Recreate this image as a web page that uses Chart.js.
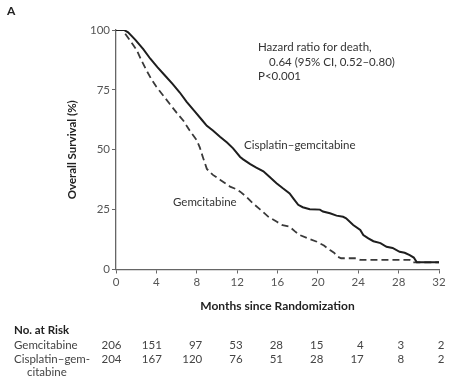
<!DOCTYPE html>
<html>
<head>
<meta charset="utf-8">
<script src="https://cdn.jsdelivr.net/npm/chart.js@4/dist/chart.umd.min.js"></script>
<style>
html,body{margin:0;padding:0;background:#fff;}
#wrap{width:464px;height:382px;position:relative;}
</style>
</head>
<body>
<div id="wrap"><canvas id="c" width="464" height="382"></canvas></div>
<script>
// ---- Data ----
const cisMonths = [0,0.8,1.2,1.9,2.7,3.4,4.1,4.85,5.6,6.3,7.0,7.8,8.6,9.0,9.6,10.3,11.0,11.6,12.3,12.6,13.3,13.9,14.6,15.2,15.9,16.5,17.2,17.6,18.05,18.5,19.2,20.2,20.5,21.2,21.85,22.5,22.8,23.5,24.2,24.5,25.0,25.5,26.2,26.8,27.4,28.1,28.6,29.1,29.5,29.8,32];
const cisSurv   = [100,100,99,96,92,88,84.5,81,77.5,74,70,66,62,60,58,55.4,53,50.6,47,46,44,42.5,41,38.7,36,34,31.8,29.5,27,26,25.2,25,24.2,23.5,22.5,22,21.4,18.6,16.5,14.4,13,11.8,11,9.5,9,7.4,7,6,5,3,3];
const gemMonths = [0,0.6,0.9,1.5,2.05,2.5,3.0,3.5,4.0,4.7,5.35,6.0,6.7,7.3,8.0,8.3,8.6,9.0,9.6,10.3,11.3,11.95,12.3,12.9,13.6,14.3,15.1,15.9,16.5,17.2,17.7,18.2,19.0,19.9,20.6,21.2,21.6,22.0,22.3,23.8,24.2,29.1,29.3,32];
const gemSurv   = [100,100,98.5,95,91.6,87.5,83.3,79.5,76.3,72.5,69,65.5,62,58,54,51,47,42,39.5,37.5,34.6,33.5,32.5,30.4,27.5,25,22,20,18.5,17.9,16,14.4,13,11.6,10,8.1,7,5.3,4.7,4.7,4,4,3,3];
const xTicks = [0,4,8,12,16,20,24,28,32];
const yTicks = [0,25,50,75,100];
const riskMonths = [0,4,8,12,16,20,24,28,32];
const gemRisk = [206,151,97,53,28,15,4,3,2];
const cisRisk = [204,167,120,76,51,28,17,8,2];

const FONT = 'Lato, "Open Sans", sans-serif';

const pts = (xs, ys) => xs.map((x, i) => ({x: x, y: ys[i]}));

const annot = {
  id: 'annot',
  afterDraw(chart) {
    const ctx = chart.ctx;
    const xs = chart.scales.x, ys = chart.scales.y;
    ctx.save();
    ctx.textBaseline = 'middle';
    // panel letter
    ctx.fillStyle = '#222';
    ctx.font = 'bold 12px ' + FONT;
    ctx.textAlign = 'left';
    ctx.fillText('A', 7, 11);
    // hazard ratio text
    ctx.fillStyle = '#333';
    ctx.font = '11.5px ' + FONT;
    ctx.fillText('Hazard ratio for death,', 258, 47);
    ctx.fillText('0.64 (95% CI, 0.52\u20130.80)', 269, 62);
    ctx.fillText('P<0.001', 258, 76);
    // curve labels
    ctx.fillText('Cisplatin\u2013gemcitabine', 244, 145);
    ctx.fillText('Gemcitabine', 173, 202);
    // y title
    ctx.save();
    ctx.translate(72, (ys.top + ys.bottom) / 2);
    ctx.rotate(-Math.PI / 2);
    ctx.textAlign = 'center';
    ctx.font = 'bold 11.5px ' + FONT;
    ctx.fillStyle = '#222';
    ctx.fillText('Overall Survival (%)', 0, 0);
    ctx.restore();
    // x title
    ctx.textAlign = 'center';
    ctx.font = 'bold 12px ' + FONT;
    ctx.fillStyle = '#222';
    ctx.fillText('Months since Randomization', (xs.left + xs.right) / 2, 306);
    // risk table
    ctx.textAlign = 'left';
    ctx.font = 'bold 11.5px ' + FONT;
    ctx.fillText('No. at Risk', 14, 330);
    ctx.font = '11.5px ' + FONT;
    ctx.fillStyle = '#444';
    ctx.fillText('Gemcitabine', 14, 345);
    ctx.fillText('Cisplatin\u2013gem-', 14, 359);
    ctx.fillText('citabine', 27, 372);
    ctx.textAlign = 'right';
    riskMonths.forEach((m, i) => {
      const px = xs.getPixelForValue(m) + 5.5;
      ctx.fillText(String(gemRisk[i]), px, 345);
      ctx.fillText(String(cisRisk[i]), px, 359);
    });
    ctx.restore();
  }
};

new Chart(document.getElementById('c'), {
  type: 'line',
  data: {
    datasets: [
      {label: 'Cisplatin\u2013gemcitabine', data: pts(cisMonths, cisSurv), borderColor: '#1e1e1e', borderWidth: 2, pointRadius: 0, tension: 0, fill: false},
      {label: 'Gemcitabine', data: pts(gemMonths, gemSurv), borderColor: '#3a3a3a', borderWidth: 1.8, borderDash: [7, 4], pointRadius: 0, tension: 0, fill: false}
    ]
  },
  options: {
    responsive: false,
    animation: false,
    devicePixelRatio: 1,
    layout: {padding: {left: 0, top: 30, right: 25, bottom: 0}},
    plugins: {legend: {display: false}, tooltip: {enabled: false}},
    scales: {
      x: {
        type: 'linear', min: 0, max: 32,
        afterFit(s) { s.height = 112.5; },
        afterBuildTicks(s) { s.ticks = xTicks.map(v => ({value: v})); },
        grid: {display: true, drawOnChartArea: false, drawTicks: true, tickLength: 4, color: '#666', lineWidth: 1},
        border: {display: true, color: '#666', width: 1.3},
        ticks: {color: '#555', font: {family: FONT, size: 11.5}, padding: 2, maxRotation: 0}
      },
      y: {
        type: 'linear', min: 0, max: 100,
        afterFit(s) { s.width = 116; },
        afterBuildTicks(s) { s.ticks = yTicks.map(v => ({value: v})); },
        grid: {display: true, drawOnChartArea: false, drawTicks: true, tickLength: 4, color: '#666', lineWidth: 1},
        border: {display: true, color: '#666', width: 1.3},
        ticks: {color: '#555', font: {family: FONT, size: 11.5}, padding: 2}
      }
    }
  },
  plugins: [annot]
});
</script>
</body>
</html>
